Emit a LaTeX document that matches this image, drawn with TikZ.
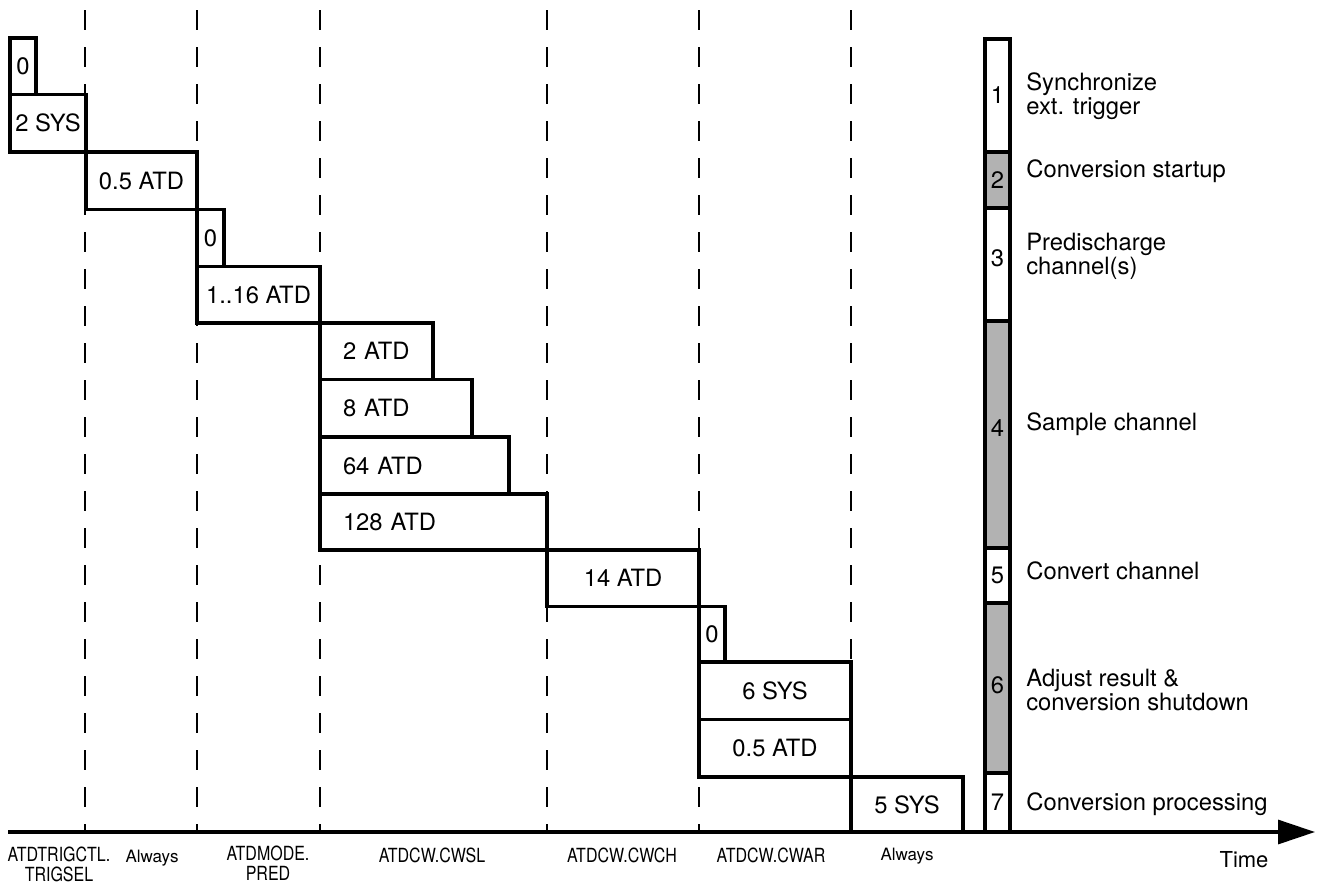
\documentclass[tikz,border=0pt]{standalone}
\usepackage{fontspec}
\setmainfont{TeX Gyre Heros}
\newfontfamily\condfont[FakeStretch=0.82]{TeX Gyre Heros}
\usetikzlibrary{arrows.meta}
\begin{document}
\begin{tikzpicture}[x=1pt,y=-1pt,
  every node/.style={outer sep=0pt},
  lbl/.style={font=\fontsize{23.8}{24}\selectfont},
  tbox/.style={draw, line width=3.1pt, fill=white, anchor=north west, inner sep=0pt, lbl},
  lbox/.style={tbox, align=left, inner xsep=23pt},
  seg/.style={draw, line width=3.1pt, anchor=north west, inner sep=0pt, minimum width=25pt, lbl},
  guide/.style={line width=2pt, dash pattern=on 20pt off 17pt},
  axislbl/.style={font=\condfont\fontsize{19.5}{20}\selectfont, align=center, inner sep=1pt},
  smalllbl/.style={font=\fontsize{17}{18}\selectfont},
  desc/.style={anchor=base west, align=left, lbl}
]
\useasboundingbox (0,0) rectangle (1317,884);

% guide lines
\foreach \x/\n in {85/a,197/b,320/c,547/d,699/e,851/f} {
  \coordinate (g\n t) at (\x,10);
  \coordinate (g\n b) at (\x,832);
  \draw[guide] (g\n t) -- (g\n b);
}

% time boxes
\node[tbox, minimum width=26pt, minimum height=56.5pt] (b0) at (10,38) {0};
\node[tbox, minimum width=76pt, minimum height=57.5pt] (b1) at (10,94.5) {2 SYS};
\node[tbox, minimum width=111pt, minimum height=57.5pt] (b2) at (86,152) {0.5 ATD};
\node[tbox, minimum width=27pt, minimum height=57pt] (b3) at (197,209.5) {0};
\node[tbox, minimum width=123pt, minimum height=56.5pt] (b4) at (197,266.5) {1..16 ATD};
\node[lbox, text width=67pt, minimum height=56.5pt] (b5) at (320,323) {2 ATD};
\node[lbox, text width=106pt, minimum height=57.5pt] (b6) at (320,379.5) {8 ATD};
\node[lbox, text width=143pt, minimum height=57pt] (b7) at (320,437) {64 ATD};
\node[lbox, text width=181pt, minimum height=56pt] (b8) at (320,494) {128 ATD};
\node[tbox, minimum width=152pt, minimum height=56.5pt] (b9) at (547,550) {14 ATD};
\node[tbox, minimum width=26pt, minimum height=55.5pt] (b10) at (699,606.5) {0};
\node[tbox, minimum width=152pt, minimum height=57.5pt] (b11) at (699,662) {6 SYS};
\node[tbox, minimum width=152pt, minimum height=57.5pt] (b12) at (699,719.5) {0.5 ATD};
\node[tbox, minimum width=112pt, minimum height=55pt] (b13) at (851,777) {5 SYS};

% time axis
\coordinate (ax0) at (8,832);
\coordinate (ax1) at (1315,832);
\draw[line width=3.2pt, -{Triangle[length=37pt,width=24pt]}] (ax0) -- (ax1);

% phase column
\node[seg, fill=white, minimum height=113pt] (s1) at (985,39) {1};
\node[seg, fill=black!30, minimum height=56pt] (s2) at (985,152) {2};
\node[seg, fill=white, minimum height=113pt, text depth=12pt] (s3) at (985,208) {3};
\node[seg, fill=black!30, minimum height=227pt, text depth=12pt] (s4) at (985,321) {4};
\node[seg, fill=white, minimum height=55pt] (s5) at (985,548) {5};
\node[seg, fill=black!30, minimum height=170pt, text depth=6pt] (s6) at (985,603) {6};
\node[seg, fill=white, minimum height=59pt] (s7) at (985,773) {7};

% phase descriptions (base anchor = last line's baseline)
\node[desc] (d1) at (1023,114) {Synchronize\\ext. trigger};
\node[desc] (d2) at (1023,177) {Conversion startup};
\node[desc] (d3) at (1023,274) {Predischarge\\channel(s)};
\node[desc] (d4) at (1023,430) {Sample channel};
\node[desc] (d5) at (1023,579) {Convert channel};
\node[desc] (d6) at (1023,710) {Adjust result \&\\conversion shutdown};
\node[desc] (d7) at (1023,810) {Conversion processing};

% axis labels
\node[axislbl] (l1) at (59,864) {ATDTRIGCTL.\\TRIGSEL};
\node[smalllbl, anchor=base] (l2) at (152,862) {Always};
\node[axislbl] (l3) at (268,863) {ATDMODE.\\PRED};
\node[axislbl] (l4) at (432,855) {ATDCW.CWSL};
\node[axislbl] (l5) at (622,855) {ATDCW.CWCH};
\node[axislbl] (l6) at (771,855) {ATDCW.CWAR};
\node[smalllbl, anchor=base] (l7) at (907,860) {Always};
\node[font=\fontsize{22}{24}\selectfont, anchor=base] (l8) at (1244,867) {Time};
\end{tikzpicture}
\end{document}
